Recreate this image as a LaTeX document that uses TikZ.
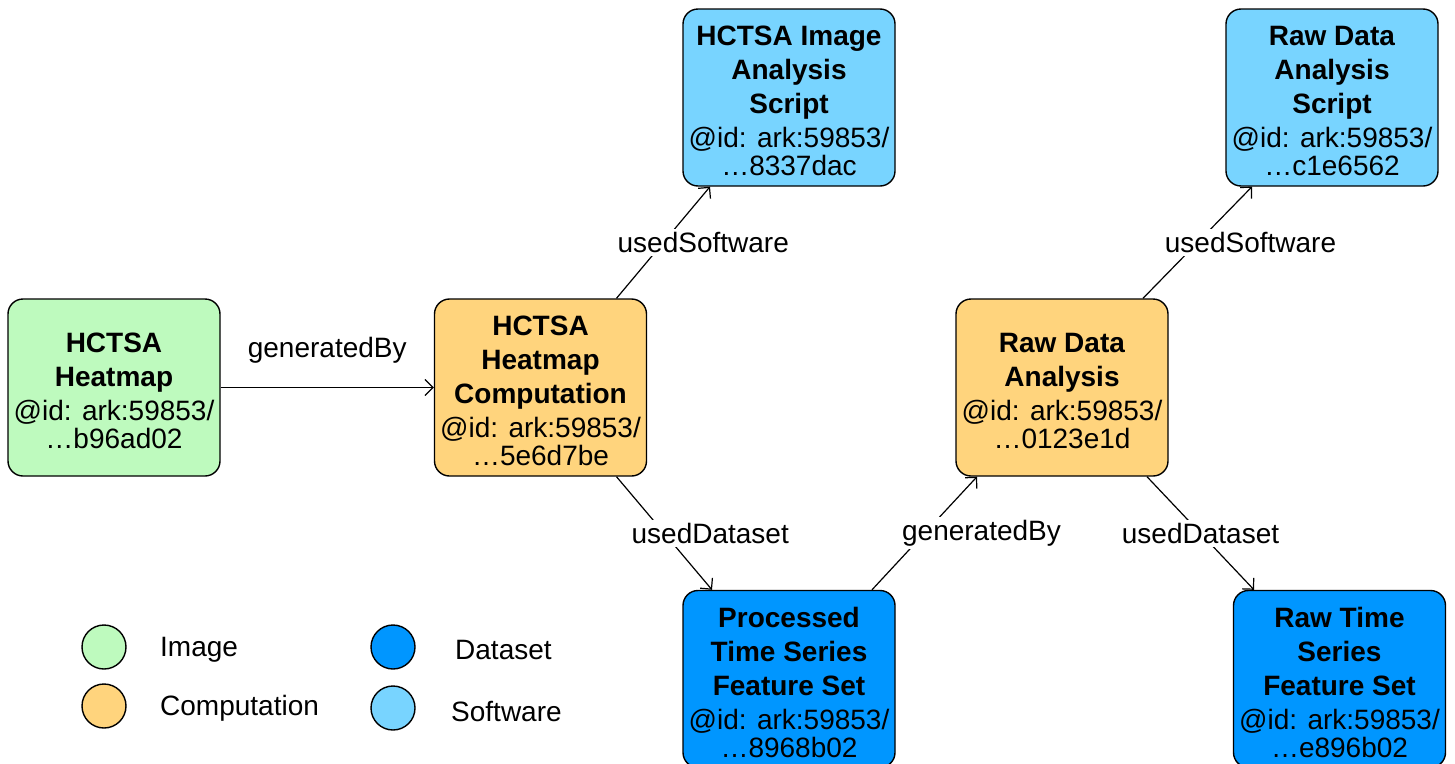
\documentclass[tikz,border=0pt]{standalone}
\usepackage{fontspec}
\setmainfont{Liberation Sans}
\usetikzlibrary{arrows.meta,calc}
\definecolor{cimage}{RGB}{190,250,190}
\definecolor{ccomp}{RGB}{255,212,125}
\definecolor{cdata}{RGB}{0,150,255}
\definecolor{csoft}{RGB}{120,212,255}
\newcommand{\topgap}{\rule{0pt}{27pt}}
\tikzset{
  box/.style={draw=black, line width=1.4pt, rounded corners=15pt, minimum width=212pt, minimum height=177pt, align=center, inner sep=0pt, font=\fontsize{28}{34}\selectfont},
  lbl/.style={fill=white, inner sep=3pt, font=\fontsize{28}{34}\selectfont},
  edge/.style={line width=1.2pt, -{Straight Barb[length=8pt,width=16pt,line width=1.2pt]}},
  dot/.style={circle, draw=black, line width=1.4pt, minimum size=44pt, inner sep=0pt},
  legtxt/.style={anchor=west, inner sep=0pt, font=\fontsize{28}{34}\selectfont}
}
\begin{document}
\begin{tikzpicture}[x=1pt,y=-1pt]
\useasboundingbox (0,0) rectangle (1455,763);
\node[box, fill=cimage] (heat) at (114,387.5) {\topgap\textbf{HCTSA}\\\textbf{Heatmap}\\@id: ark:59853/\\[-6pt]…b96ad02};
\node[box, fill=ccomp] (comp) at (540.5,387.5) {\topgap\textbf{HCTSA}\\\textbf{Heatmap}\\\textbf{Computation}\\@id: ark:59853/\\[-6pt]…5e6d7be};
\node[box, fill=csoft] (soft1) at (789,97.5) {\topgap\textbf{HCTSA Image}\\\textbf{Analysis}\\\textbf{Script}\\@id: ark:59853/\\[-6pt]…8337dac};
\node[box, fill=ccomp] (rda) at (1062,387.5) {\topgap\textbf{Raw Data}\\\textbf{Analysis}\\@id: ark:59853/\\[-6pt]…0123e1d};
\node[box, fill=csoft] (soft2) at (1332,97.5) {\topgap\textbf{Raw Data}\\\textbf{Analysis}\\\textbf{Script}\\@id: ark:59853/\\[-6pt]…c1e6562};
\node[box, fill=cdata] (proc) at (789,679) {\topgap\textbf{Processed}\\\textbf{Time Series}\\\textbf{Feature Set}\\@id: ark:59853/\\[-6pt]…8968b02};
\node[box, fill=cdata] (rawts) at (1339.5,679) {\topgap\textbf{Raw Time}\\\textbf{Series}\\\textbf{Feature Set}\\@id: ark:59853/\\[-6pt]…e896b02};

\draw[edge] (heat.east) -- node[lbl, yshift=37pt] {generatedBy} (comp.west);
\draw[edge] ($(comp.north)+(76,0)$) -- node[lbl, xshift=40pt] {usedSoftware} ($(soft1.south)+(-79,0)$);
\draw[edge] ($(comp.south)+(76,0)$) -- node[lbl, xshift=46pt] {usedDataset} ($(proc.north)+(-77,0)$);
\draw[edge] ($(proc.north)+(83,0)$) -- node[lbl, xshift=57pt] {generatedBy} ($(rda.south)+(-85,0)$);
\draw[edge] ($(rda.north)+(81,0)$) -- node[lbl, xshift=53pt] {usedSoftware} ($(soft2.south)+(-80,0)$);
\draw[edge] ($(rda.south)+(85,0)$) -- node[lbl] {usedDataset} ($(rawts.north)+(-85.5,0)$);

\node[dot, fill=cimage] (limg) at (104,647) {};
\node[legtxt] (timg) at (160,650) {Image};
\node[dot, fill=ccomp] (lcomp) at (104,706) {};
\node[legtxt] (tcomp) at (160,708) {Computation};
\node[dot, fill=cdata] (ldata) at (393,647) {};
\node[legtxt] (tdata) at (455,650) {Dataset};
\node[dot, fill=csoft] (lsoft) at (393,708) {};
\node[legtxt] (tsoft) at (451,711) {Software};
\end{tikzpicture}
\end{document}
